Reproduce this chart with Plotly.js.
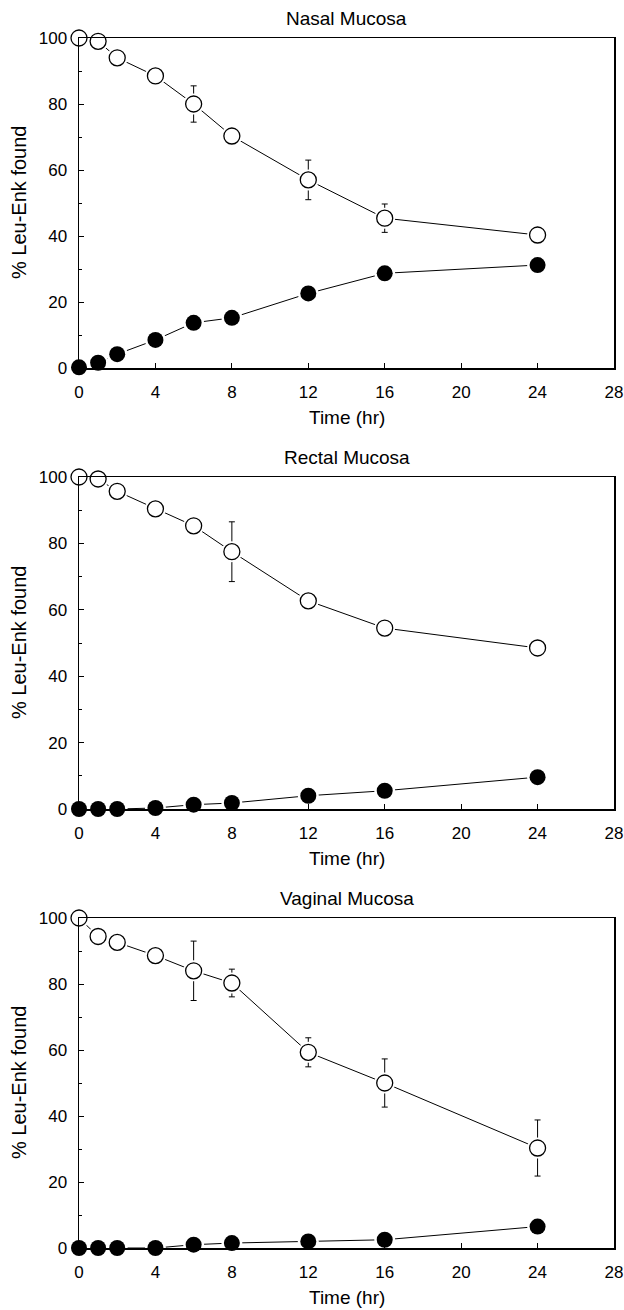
<!DOCTYPE html>
<html>
<head>
<meta charset="utf-8">
<script src="https://cdn.plot.ly/plotly-3.0.1.min.js"></script>
<style>
  html, body { margin: 0; padding: 0; background: #fff; }
  #chart { width: 624px; height: 1310px; }
</style>
</head>
<body>
<div id="chart"></div>
<script>
// ---- Data ----
const panelTitles = ["Nasal Mucosa", "Rectal Mucosa", "Vaginal Mucosa"];
const timeHr = [0, 1, 2, 4, 6, 8, 12, 16, 24];
const xTickVals = [0, 4, 8, 12, 16, 20, 24, 28];
const yTickVals = [0, 20, 40, 60, 80, 100];

const nasalOpen      = [100, 99, 94, 88.5, 80, 70.3, 57, 45.4, 40.3];
const nasalOpenErr   = [0, 0, 0, 0, 5.5, 0, 6, 4.3, 0];
const nasalFilled    = [0.2, 1.6, 4.2, 8.5, 13.7, 15.2, 22.6, 28.7, 31.2];

const rectalOpen     = [100, 99.4, 95.7, 90.4, 85.3, 77.5, 62.7, 54.5, 48.5];
const rectalOpenErr  = [0, 0, 0, 0, 0, 9, 0, 0, 0];
const rectalFilled   = [0, 0, 0, 0.3, 1.3, 1.8, 4.0, 5.5, 9.6];

const vaginalOpen    = [100, 94.4, 92.6, 88.6, 84, 80.3, 59.3, 50, 30.3];
const vaginalOpenErr = [0, 0, 0, 0, 9, 4.2, 4.4, 7.3, 8.5];
const vaginalFilled  = [0, 0, 0, 0, 1.0, 1.5, 2.0, 2.5, 6.5];

const panels = [
  {open: nasalOpen, err: nasalOpenErr, filled: nasalFilled},
  {open: rectalOpen, err: rectalOpenErr, filled: rectalFilled},
  {open: vaginalOpen, err: vaginalOpenErr, filled: vaginalFilled}
];

// ---- Layout geometry ----
const W = 624, H = 1310;
const mL = 79, mR = 10, mT = 38, mB = 62;
const plotH = H - mT - mB;
const panelPx = [[38, 368], [477, 809], [918, 1248]]; // top, bottom pixel of each plot area
const fy = px => (H - mB - px) / plotH;
const fx = px => (px - mL) / (W - mL - mR);

const FONT = "Liberation Sans, Arial, Helvetica, sans-serif";
const traces = [];
const layout = {
  width: W, height: H,
  margin: {l: mL, r: mR, t: mT, b: mB},
  paper_bgcolor: "#fff", plot_bgcolor: "#fff",
  showlegend: false,
  font: {family: FONT, color: "#000", size: 17},
  annotations: []
};

panels.forEach((p, i) => {
  const xa = i === 0 ? "x" : "x" + (i + 1);
  const ya = i === 0 ? "y" : "y" + (i + 1);
  const xk = i === 0 ? "xaxis" : "xaxis" + (i + 1);
  const yk = i === 0 ? "yaxis" : "yaxis" + (i + 1);
  const [top, bot] = panelPx[i];

  // connecting lines + error bars
  traces.push({
    x: timeHr, y: p.open, xaxis: xa, yaxis: ya, type: "scatter", mode: "lines",
    line: {color: "#000", width: 1}, cliponaxis: false, hoverinfo: "skip",
    error_y: {type: "data", array: p.err, visible: true, color: "#000", thickness: 1, width: 3}
  });
  traces.push({
    x: timeHr, y: p.filled, xaxis: xa, yaxis: ya, type: "scatter", mode: "lines",
    line: {color: "#000", width: 1}, cliponaxis: false, hoverinfo: "skip"
  });
  // white halos (gap between line and symbol)
  [p.open, p.filled].forEach(ys => traces.push({
    x: timeHr, y: ys, xaxis: xa, yaxis: ya, type: "scatter", mode: "markers",
    marker: {color: "#fff", size: 21, line: {width: 0}}, cliponaxis: false, hoverinfo: "skip"
  }));
  // symbols
  traces.push({
    x: timeHr, y: p.open, xaxis: xa, yaxis: ya, type: "scatter", mode: "markers",
    marker: {symbol: "circle", color: "#fff", size: 16, line: {color: "#000", width: 1.3}},
    cliponaxis: false
  });
  traces.push({
    x: timeHr, y: p.filled, xaxis: xa, yaxis: ya, type: "scatter", mode: "markers",
    marker: {symbol: "circle", color: "#000", size: 16, line: {color: "#000", width: 0}},
    cliponaxis: false
  });

  layout[xk] = {
    domain: [0, 1], anchor: ya, range: [0, 28], tickvals: xTickVals,
    ticks: "inside", ticklen: 5, tickwidth: 1, tickcolor: "#000",
    showline: true, linecolor: "#000", linewidth: 1.5, mirror: true,
    showgrid: false, zeroline: false, ticklabelstandoff: 8,
    tickfont: {family: FONT, size: 17, color: "#000"}, fixedrange: true
  };
  layout[yk] = {
    domain: [fy(bot), fy(top)], anchor: xa, range: [0, 100], tickvals: yTickVals,
    ticks: "inside", ticklen: 5, tickwidth: 1, tickcolor: "#000",
    minor: {ticks: "inside", ticklen: 3, dtick: 10, tickcolor: "#000", tickwidth: 1},
    showline: true, linecolor: "#000", linewidth: 1.5, mirror: true,
    showgrid: false, zeroline: false, ticklabelstandoff: 7,
    tickfont: {family: FONT, size: 17, color: "#000"}, fixedrange: true
  };

  // panel title
  layout.annotations.push({
    text: panelTitles[i], xref: "paper", yref: "paper", x: 0.5, y: fy(top - 20),
    xanchor: "center", yanchor: "middle", showarrow: false,
    font: {family: FONT, size: 19, color: "#000"}
  });
  // x title
  layout.annotations.push({
    text: "Time (hr)", xref: "paper", yref: "paper", x: 0.5, y: fy(bot + 49),
    xanchor: "center", yanchor: "middle", showarrow: false,
    font: {family: FONT, size: 19, color: "#000"}
  });
  // y title
  layout.annotations.push({
    text: "% Leu-Enk found", xref: "paper", yref: "paper", x: fx(19), y: fy((top + bot) / 2),
    xanchor: "center", yanchor: "middle", textangle: -90, showarrow: false,
    font: {family: FONT, size: 20, color: "#000"}
  });
});

Plotly.newPlot("chart", traces, layout, {staticPlot: true, displayModeBar: false});
</script>
</body>
</html>
